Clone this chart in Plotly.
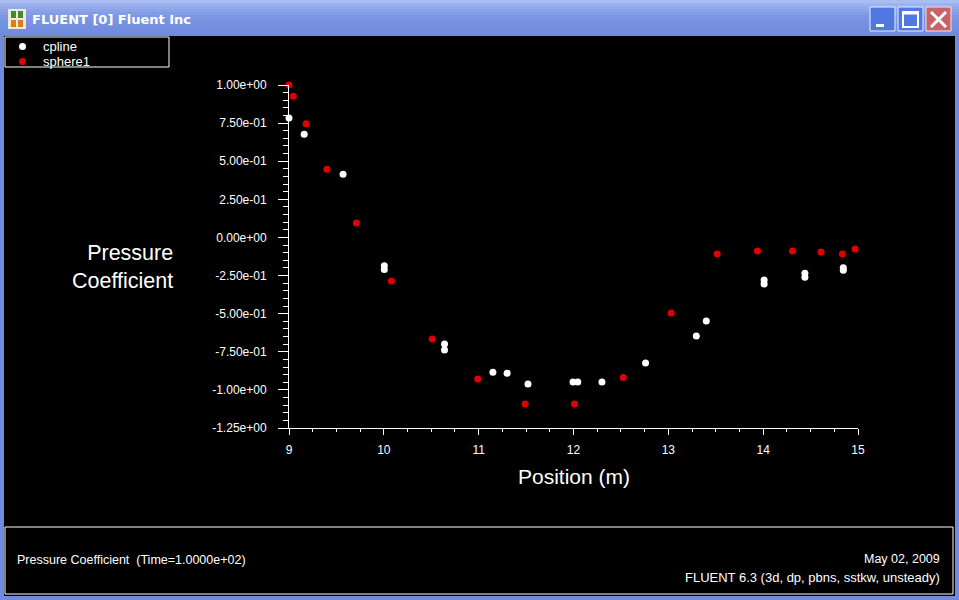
import plotly.graph_objects as go

cpline_x = [9.0, 9.16, 9.57, 10.005, 10.005, 10.64, 10.64, 11.15, 11.30, 11.52,
            11.995, 12.045, 12.30, 12.76, 13.295, 13.40, 14.01, 14.01, 14.44, 14.44,
            14.845, 14.845, 15.01]
cpline_y = [0.784, 0.677, 0.415, -0.185, -0.211, -0.699, -0.738, -0.885, -0.891, -0.961,
            -0.948, -0.948, -0.948, -0.824, -0.646, -0.548, -0.279, -0.305, -0.235, -0.261,
            -0.198, -0.215, -0.194]

sphere1_x = [9.0, 9.045, 9.18, 9.40, 9.71, 10.08, 10.51, 10.99, 11.49, 12.01,
             12.525, 13.03, 13.515, 13.94, 14.31, 14.61, 14.835, 14.97, 15.01]
sphere1_y = [1.0, 0.926, 0.745, 0.447, 0.095, -0.285, -0.666, -0.928, -1.093, -1.093,
             -0.918, -0.495, -0.108, -0.089, -0.089, -0.095, -0.108, -0.075, -0.067]

y_tickvals = [1.0, 0.75, 0.5, 0.25, 0.0, -0.25, -0.5, -0.75, -1.0, -1.25]
y_ticktext = ["1.00e+00", "7.50e-01", "5.00e-01", "2.50e-01", "0.00e+00",
              "-2.50e-01", "-5.00e-01", "-7.50e-01", "-1.00e+00", "-1.25e+00"]
x_tickvals = [9, 10, 11, 12, 13, 14, 15]

W, H = 959, 600
FONT = "Liberation Sans, Arial, sans-serif"


def fx(x):
    return x / W


def fy(y):
    return 1 - y / H


def rect(x0, y0, x1, y1, fill=None, line=None, lw=1, layer=None):
    if layer is None:
        layer = "below" if fill and not line else "above"
    return dict(type="rect", xref="paper", yref="paper",
                x0=fx(x0), x1=fx(x1), y0=fy(y1), y1=fy(y0),
                fillcolor=fill if fill else "rgba(0,0,0,0)",
                line=dict(color=line if line else "rgba(0,0,0,0)", width=lw if line else 0),
                layer=layer)


def seg(x0, y0, x1, y1, color="white", lw=1):
    return dict(type="line", xref="paper", yref="paper",
                x0=fx(x0), x1=fx(x1), y0=fy(y0), y1=fy(y1),
                line=dict(color=color, width=lw), layer="above")


def text(x, y, s, size=12, xanchor="left", color="white", family=FONT, align="left"):
    return dict(x=fx(x), y=fy(y), xref="paper", yref="paper", text=s, showarrow=False,
                xanchor=xanchor, yanchor="middle", align=align,
                font=dict(family=family, size=size, color=color))


fig = go.Figure()
fig.add_trace(go.Scatter(x=cpline_x, y=cpline_y, mode="markers", name="cpline",
                         marker=dict(color="white", size=7), cliponaxis=False))
fig.add_trace(go.Scatter(x=sphere1_x, y=sphere1_y, mode="markers", name="sphere1",
                         marker=dict(color="#e00000", size=7), cliponaxis=False))

shapes = []
# window frame
shapes.append(rect(0, 0, W, H, fill="#6f8bdd"))
# title bar gradient
bands = ["#a9bdf2", "#9db3ef", "#93aaeb", "#8aa2e8", "#839ce6", "#7e97e4",
         "#7b94e2", "#7892e1", "#7690e0", "#748edf", "#728cde", "#708add"]
bh = 36 / len(bands)
for i, c in enumerate(bands):
    shapes.append(rect(0, i * bh, W, (i + 1) * bh + 0.5, fill=c))
# black client area
shapes.append(rect(4, 36, 955, 596, fill="black"))
# title icon
shapes.append(rect(8, 9, 26, 29, fill="#efe9d2"))
shapes.append(rect(11, 11, 16, 18, fill="#3c8c3c"))
shapes.append(rect(18, 11, 23, 18, fill="#3c8c3c"))
shapes.append(rect(11, 20, 16, 27, fill="#d08020"))
shapes.append(rect(18, 20, 23, 27, fill="#d08020"))
# caption buttons
shapes.append(rect(870, 7, 895, 31, fill="#4f78e2", line="#e8eefc"))
shapes.append(rect(876, 24, 884, 27, fill="white", layer="above"))
shapes.append(rect(898, 7, 923, 31, fill="#4f78e2", line="#e8eefc"))
shapes.append(rect(903, 12, 918, 27, line="white", lw=2))
shapes.append(seg(903, 13, 918, 13, lw=3))
shapes.append(rect(926, 7, 951, 31, fill="#c8636b", line="#f4e4e6"))
shapes.append(seg(931, 12, 946, 27, lw=3))
shapes.append(seg(946, 12, 931, 27, lw=3))
# legend box
shapes.append(rect(5, 37, 169, 67, line="white"))
shapes.append(dict(type="circle", xref="paper", yref="paper", x0=fx(19), x1=fx(26),
                   y0=fy(50), y1=fy(43), fillcolor="white", line=dict(width=0)))
shapes.append(dict(type="circle", xref="paper", yref="paper", x0=fx(19), x1=fx(26),
                   y0=fy(65), y1=fy(58), fillcolor="#e00000", line=dict(width=0)))
# bottom info panel
shapes.append(rect(5, 527, 953, 594, line="white"))

annotations = [
    text(30, 20, "<b>FLUENT [0] Fluent Inc</b>", size=13, family="DejaVu Sans, sans-serif"),
    text(41, 46, "cpline", size=13),
    text(41, 61, "sphere1", size=13),
    text(175, 267, "Pressure<br>Coefficient", size=21.5, xanchor="right", align="right"),
    text(574, 476, "Position (m)", size=21, xanchor="center"),
    text(15, 560, "Pressure Coefficient  (Time=1.0000e+02)", size=12.5),
    text(942, 559, "May 02, 2009", size=12.5, xanchor="right"),
    text(942, 577, "FLUENT 6.3 (3d, dp, pbns, sstkw, unsteady)", size=13, xanchor="right"),
]

fig.update_layout(
    width=W, height=H,
    margin=dict(l=0, r=0, t=0, b=0, pad=0, autoexpand=False),
    paper_bgcolor="black", plot_bgcolor="black",
    showlegend=False,
    shapes=shapes, annotations=annotations,
    font=dict(family=FONT, color="white", size=12),
    xaxis=dict(domain=[289 / W, 858 / W], range=[9, 15], autorange=False, automargin=False,
               showgrid=False, zeroline=False, showline=True, linecolor="white", linewidth=1,
               tickmode="array", tickvals=x_tickvals, ticks="outside", ticklen=6,
               tickcolor="white", tickfont=dict(family=FONT, size=12, color="white"),
               ticklabelstandoff=5,
               minor=dict(dtick=0.25, tick0=9, ticks="outside", ticklen=3, tickcolor="white",
                          showgrid=False)),
    yaxis=dict(domain=[1 - 428 / H, 1 - 85 / H], range=[-1.25, 1.0], autorange=False,
               automargin=False,
               showgrid=False, zeroline=False, showline=True, linecolor="white", linewidth=1,
               tickmode="array", tickvals=y_tickvals, ticktext=y_ticktext,
               ticks="outside", ticklen=10, tickcolor="white",
               tickfont=dict(family=FONT, size=12, color="white"),
               ticklabelstandoff=9,
               minor=dict(dtick=0.05, tick0=-1.25, ticks="outside", ticklen=5,
                          tickcolor="white", showgrid=False)),
)

fig.write_html("out.html", config={"displayModeBar": False},
               post_script="document.body.style.margin='0';document.body.style.overflow='hidden';")
